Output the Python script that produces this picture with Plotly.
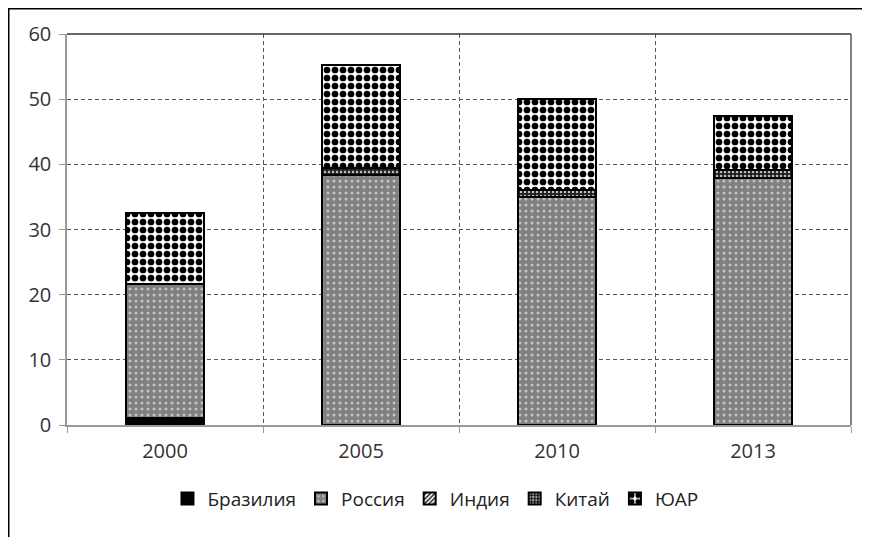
import plotly.graph_objects as go

years = ['2000', '2005', '2010', '2013']
x_pos = [0, 1, 2, 3]

brazil = [1.1, 0.0, 0.0, 0.0]
russia = [20.5, 38.3, 35.0, 37.9]
india = [0.0, 0.0, 0.0, 0.0]
china = [0.0, 1.2, 1.0, 1.2]
sar = [10.9, 15.7, 14.0, 8.3]

series = [
    ('Бразилия', brazil, dict(fillmode='replace', shape='', bgcolor='black')),
    ('Россия', russia, dict(shape='.', bgcolor='#808080', fgcolor='#c4c4c4',
                            size=6, solidity=0.2)),
    ('Индия', india, dict(shape='/', bgcolor='white', fgcolor='black',
                          size=4, solidity=0.4)),
    ('Китай', china, dict(shape='.', bgcolor='#1e1e1e', fgcolor='#bdbdbd',
                          size=4, solidity=0.3)),
    ('ЮАР', sar, dict(shape='.', bgcolor='white', fgcolor='black',
                      size=8, solidity=0.55)),
]

fig = go.Figure()
for name, vals, pat in series:
    pat = dict(pat)
    if pat['shape']:
        pat.update(fillmode='overlay', fgopacity=1)
    fig.add_trace(go.Bar(
        x=x_pos, y=vals, name=name,
        marker=dict(color=pat.get('bgcolor', 'black'),
                    line=dict(color='black', width=2),
                    pattern=pat),
        width=0.4,
    ))

# plot-area border (top / right) and outer chart frame
fig.add_shape(type='line', xref='paper', yref='paper', x0=0, x1=1, y0=1, y1=1,
              line=dict(color='#333333', width=1.5))
fig.add_shape(type='line', xref='paper', yref='paper', x0=1, x1=1, y0=0, y1=1,
              line=dict(color='#555555', width=1.5))
fig.add_shape(type='rect', xref='paper', yref='paper', x0=-0.0743, x1=1.2,
              y0=-0.5, y1=1.0646, line=dict(color='black', width=1.5),
              layer='below')

# the page body adds an 8px offset, so the figure is 8px smaller
fig.update_layout(
    barmode='stack',
    width=862, height=529,
    margin=dict(l=59, r=19, t=26, b=112),
    paper_bgcolor='white', plot_bgcolor='white',
    font=dict(family='Open Sans, DejaVu Sans, sans-serif', size=20, color='#333333'),
    showlegend=True,
    legend=dict(orientation='h', x=0.47, xanchor='center', y=-0.14, yanchor='top',
                traceorder='normal', font=dict(size=19, color='#222222'),
                itemwidth=30),
    xaxis=dict(
        range=[-0.5, 3.5],
        tickmode='array', tickvals=x_pos, ticktext=years,
        showgrid=False, ticks='', zeroline=False,
        showline=True, linecolor='#9a9a9a', linewidth=1.5,
        minor=dict(tickmode='array', tickvals=[-0.5, 0.5, 1.5, 2.5, 3.5],
                   showgrid=True, gridcolor='#555555', griddash='4px,3px',
                   gridwidth=1, ticks='outside', ticklen=6, tickcolor='#9a9a9a'),
        ticklabelstandoff=7,
    ),
    yaxis=dict(
        range=[0, 60], dtick=10,
        showgrid=True, gridcolor='#555555', griddash='4px,3px', gridwidth=1,
        zeroline=False,
        showline=True, linecolor='#9a9a9a', linewidth=1.5,
        ticks='outside', ticklen=6, tickcolor='#9a9a9a',
        ticklabelstandoff=4,
    ),
)

fig.write_html('out.html')
